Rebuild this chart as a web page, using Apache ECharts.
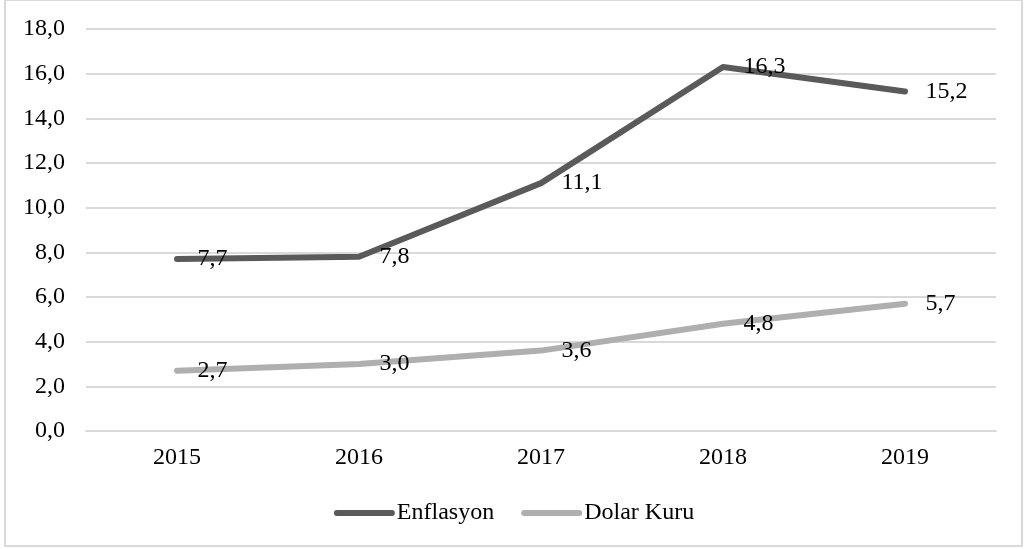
<!DOCTYPE html>
<html><head><meta charset="utf-8">
<script src="https://cdn.jsdelivr.net/npm/echarts@6/dist/echarts.min.js"></script>
<style>html,body{margin:0;padding:0;background:#fff}#c{width:1028px;height:549px}</style>
</head><body><div id="c"></div>
<script>
var categories = ['2015','2016','2017','2018','2019'];
var enflasyon = [7.7, 7.8, 11.1, 16.3, 15.2];
var dolarKuru = [2.7, 3.0, 3.6, 4.8, 5.7];
var seriesNames = ['Enflasyon','Dolar Kuru'];
var yTicks = {min: 0, max: 18, interval: 2};

var FONT = '"Liberation Serif","Times New Roman",serif';
function fmt(v){ return v.toFixed(1).replace('.', ','); }
function mkSeries(name, data, color){
  return {
    name: name, type: 'line', data: data, symbol: 'circle', symbolSize: 1, showSymbol: true,
    lineStyle: {color: color, width: 6, cap: 'round', join: 'round'},
    itemStyle: {color: color},
    label: {show: true, position: 'right', distance: 20, color: '#000',
      fontFamily: FONT, fontSize: 24,
      formatter: function(p){ return fmt(p.value); }},
    emphasis: {disabled: true}, animation: false
  };
}
var chart = echarts.init(document.getElementById('c'), null, {renderer: 'canvas'});
chart.setOption({
  animation: false,
  backgroundColor: '#fff',
  graphic: [{type: 'rect', shape: {x: 5, y: 0, width: 1017, height: 546},
    style: {fill: 'none', stroke: '#d9d9d9', lineWidth: 2}, silent: true, z: -1}],
  grid: {left: 86, right: 32, top: 29, bottom: 118, containLabel: false},
  xAxis: {type: 'category', data: categories, boundaryGap: true,
    axisLine: {show: true, lineStyle: {color: '#d9d9d9', width: 2}},
    axisTick: {show: false},
    axisLabel: {color: '#000', fontFamily: FONT, fontSize: 24, margin: 15}},
  yAxis: {type: 'value', min: yTicks.min, max: yTicks.max, interval: yTicks.interval,
    axisLine: {show: false}, axisTick: {show: false},
    splitLine: {lineStyle: {color: '#d9d9d9', width: 2}},
    axisLabel: {color: '#000', fontFamily: FONT, fontSize: 24, margin: 21,
      formatter: function(v){ return fmt(v); }}},
  legend: {data: seriesNames, left: 'center', top: 496, itemWidth: 55, itemHeight: 14,
    itemGap: 27, itemStyle: {opacity: 0},
    lineStyle: {width: 6, cap: 'round'},
    textStyle: {color: '#000', fontFamily: FONT, fontSize: 24}},
  series: [mkSeries(seriesNames[0], enflasyon, '#5a5a5a'), mkSeries(seriesNames[1], dolarKuru, '#afafaf')]
});
</script></body></html>
